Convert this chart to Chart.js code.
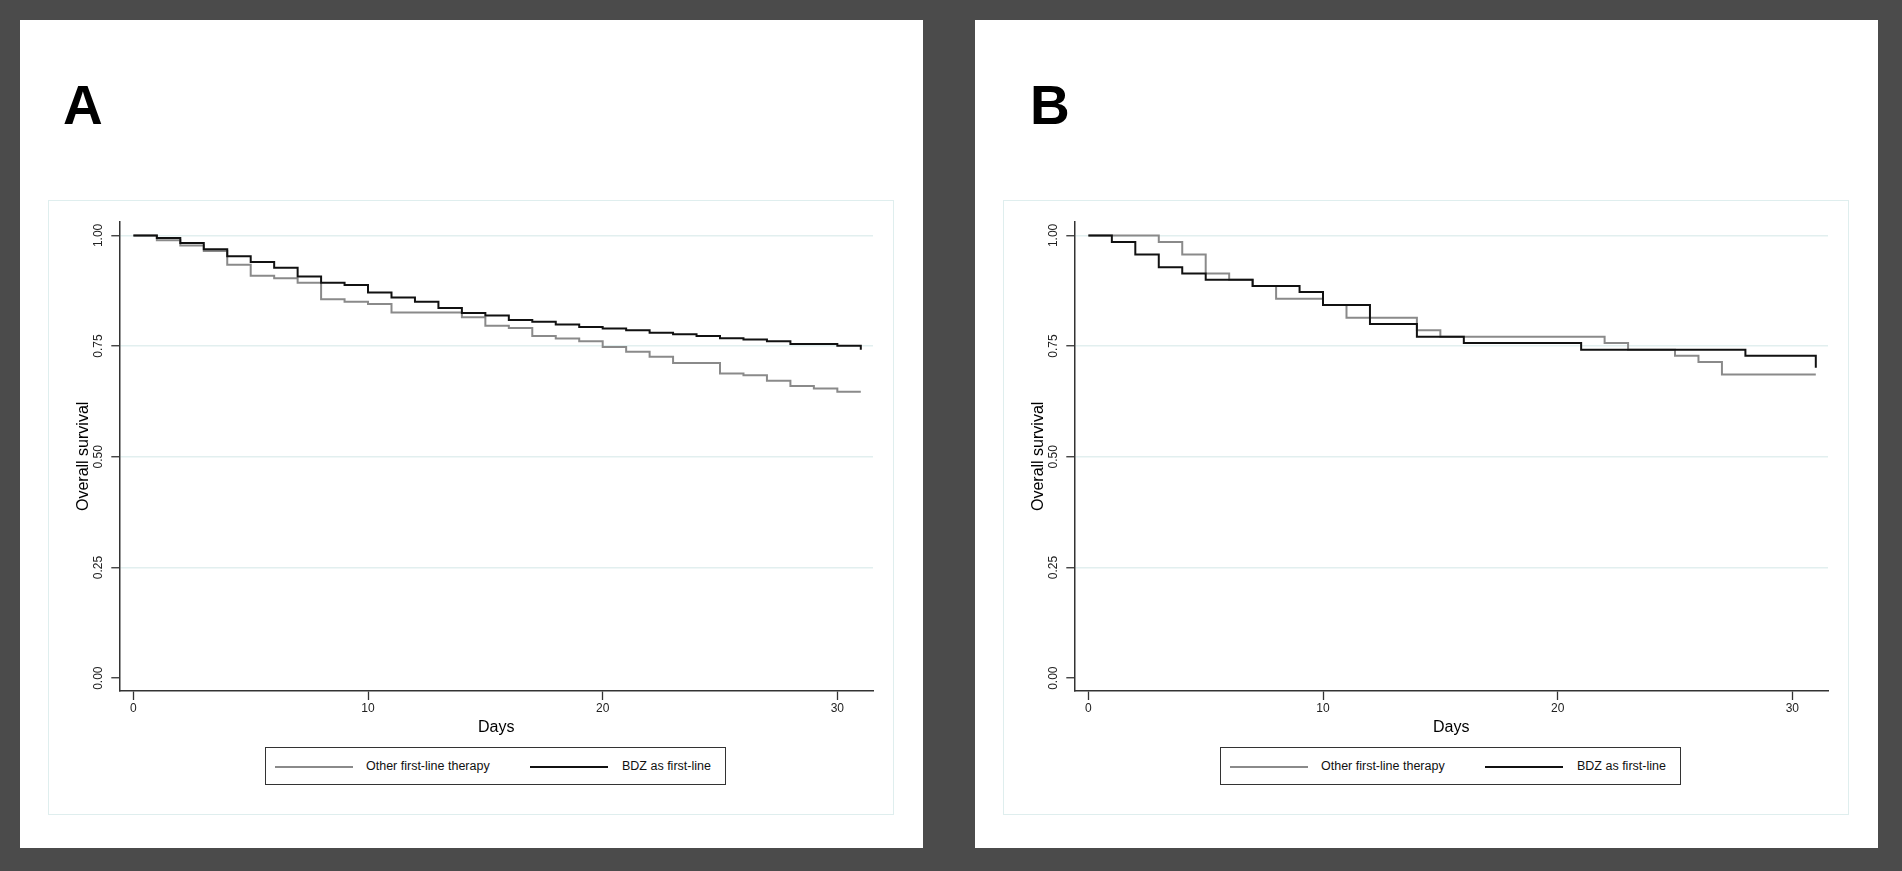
<!DOCTYPE html>
<html>
<head>
<meta charset="utf-8">
<script src="https://cdn.jsdelivr.net/npm/chart.js@4.4.1/dist/chart.umd.min.js"></script>
<style>
  html, body { margin: 0; padding: 0; width: 1902px; height: 871px; overflow: hidden; background: #4b4b4b; font-family: "Liberation Sans", Arial, sans-serif; }
  .card { position: absolute; top: 20px; width: 903px; height: 828px; background: #fff; }
  .frame { position: absolute; left: 28px; top: 180px; width: 844px; height: 613px; border: 1.5px solid #dfeeee; }
  .lbl { position: absolute; top: 58px; font-size: 55px; font-weight: bold; line-height: 1; color: #000; }
  canvas { position: absolute; left: 0; top: 0; }
  .legend { position: absolute; left: 245px; top: 727px; width: 459px; height: 36px; border: 1.5px solid #333; background: #fff; font-size: 12.5px; color: #111; }
  .legend .ln { position: absolute; top: 18px; width: 78px; height: 0; }
  .legend .tx { position: absolute; top: 11px; line-height: 14px; white-space: nowrap; }
</style>
</head>
<body>
<div class="card" style="left:20px">
  <div class="frame"></div>
  <div class="lbl" style="left:43px">A</div>
  <canvas id="chartA" width="903" height="828"></canvas>
  <div class="legend">
    <div class="ln" style="left:9px;border-top:2px solid #8a8a8a"></div>
    <div class="tx" style="left:100px">Other first-line therapy</div>
    <div class="ln" style="left:264px;border-top:2px solid #111"></div>
    <div class="tx" style="left:356px">BDZ as first-line</div>
  </div>
</div>
<div class="card" style="left:975px">
  <div class="frame"></div>
  <div class="lbl" style="left:55px">B</div>
  <canvas id="chartB" width="903" height="828"></canvas>
  <div class="legend">
    <div class="ln" style="left:9px;border-top:2px solid #8a8a8a"></div>
    <div class="tx" style="left:100px">Other first-line therapy</div>
    <div class="ln" style="left:264px;border-top:2px solid #111"></div>
    <div class="tx" style="left:356px">BDZ as first-line</div>
  </div>
</div>

<script>
// Axis ticks
const xTicks = [0, 10, 20, 30];
const yTicks = [0, 0.25, 0.5, 0.75, 1];

// Panel A - Kaplan-Meier steps (day of event, survival after it)
const daysA_other = [0, 1, 2, 3, 4, 5, 6, 7, 8, 9, 10, 11, 14, 15, 16, 17, 18, 19, 20, 21, 22, 23, 25, 26, 27, 28, 29, 30, 31];
const survA_other = [1, 0.989, 0.977, 0.965, 0.934, 0.909, 0.903, 0.893, 0.856, 0.850, 0.845, 0.826, 0.815, 0.796, 0.791, 0.773, 0.767, 0.761, 0.748, 0.737, 0.726, 0.712, 0.688, 0.684, 0.672, 0.660, 0.654, 0.647, 0.647];
const daysA_bdz = [0, 1, 2, 3, 4, 5, 6, 7, 8, 9, 10, 11, 12, 13, 14, 15, 16, 17, 18, 19, 20, 21, 22, 23, 24, 25, 26, 27, 28, 30, 31];
const survA_bdz = [1, 0.994, 0.983, 0.969, 0.953, 0.940, 0.927, 0.907, 0.893, 0.888, 0.871, 0.860, 0.850, 0.836, 0.825, 0.819, 0.809, 0.805, 0.799, 0.793, 0.790, 0.786, 0.780, 0.777, 0.773, 0.768, 0.765, 0.761, 0.755, 0.751, 0.742];

// Panel B
const daysB_other = [0, 3, 4, 5, 6, 7, 8, 10, 11, 14, 15, 22, 23, 25, 26, 27, 31];
const survB_other = [1, 0.985, 0.957, 0.914, 0.900, 0.886, 0.857, 0.843, 0.814, 0.786, 0.771, 0.757, 0.742, 0.728, 0.714, 0.686, 0.686];
const daysB_bdz = [0, 1, 2, 3, 4, 5, 7, 9, 10, 12, 14, 16, 21, 28, 31];
const survB_bdz = [1, 0.985, 0.957, 0.928, 0.914, 0.900, 0.886, 0.872, 0.843, 0.800, 0.771, 0.757, 0.742, 0.728, 0.701];

const seriesNames = ['Other first-line therapy', 'BDZ as first-line'];
const seriesColors = ['#8a8a8a', '#111111'];

function toPoints(days, surv) {
  return days.map((d, i) => ({ x: d, y: surv[i] }));
}

function makeKM(id, other, bdz) {
  const ctx = document.getElementById(id).getContext('2d');
  return new Chart(ctx, {
    type: 'line',
    data: {
      datasets: [
        { label: seriesNames[0], data: other, borderColor: seriesColors[0], borderWidth: 2, stepped: true, pointRadius: 0, fill: false, order: 1 },
        { label: seriesNames[1], data: bdz, borderColor: seriesColors[1], borderWidth: 2, stepped: true, pointRadius: 0, fill: false, order: 0 }
      ]
    },
    options: {
      responsive: false,
      animation: false,
      devicePixelRatio: 1,
      layout: { padding: { left: 40, top: 201.7, right: 50, bottom: 97 } },
      plugins: { legend: { display: false }, tooltip: { enabled: false } },
      scales: {
        x: {
          type: 'linear',
          min: -0.6,
          max: 31.52,
          afterBuildTicks: (s) => { s.ticks = xTicks.map(v => ({ value: v })); },
          afterFit: (s) => { s.height = 60; },
          grid: { drawOnChartArea: false, drawTicks: true, tickLength: 9, tickColor: '#333', tickWidth: 1.3 },
          border: { color: '#333', width: 1.5 },
          ticks: { color: '#222', font: { family: 'Liberation Sans', size: 12 }, padding: 1, maxRotation: 0 },
          title: { display: true, text: 'Days', color: '#000', font: { family: 'Liberation Sans', size: 16 }, padding: { top: 0, bottom: 14 } }
        },
        y: {
          min: -0.029,
          max: 1.031,
          afterBuildTicks: (s) => { s.ticks = yTicks.map(v => ({ value: v })); },
          afterFit: (s) => { s.width = 59.3; },
          grid: {
            color: (c) => (c.tick && c.tick.value === 0) ? 'rgba(0,0,0,0)' : '#e2efef',
            lineWidth: 1.5,
            tickLength: 8,
            tickColor: '#333',
            tickWidth: 1.3
          },
          border: { color: '#333', width: 1.5 },
          ticks: {
            color: '#222',
            font: { family: 'Liberation Sans', size: 12 },
            minRotation: 90,
            maxRotation: 90,
            crossAlign: 'center',
            padding: 1,
            callback: (v) => Number(v).toFixed(2)
          },
          title: { display: true, text: 'Overall survival', color: '#000', font: { family: 'Liberation Sans', size: 16 }, padding: { top: 14, bottom: 0 } }
        }
      }
    }
  });
}

makeKM('chartA', toPoints(daysA_other, survA_other), toPoints(daysA_bdz, survA_bdz));
makeKM('chartB', toPoints(daysB_other, survB_other), toPoints(daysB_bdz, survB_bdz));
</script>
</body>
</html>
